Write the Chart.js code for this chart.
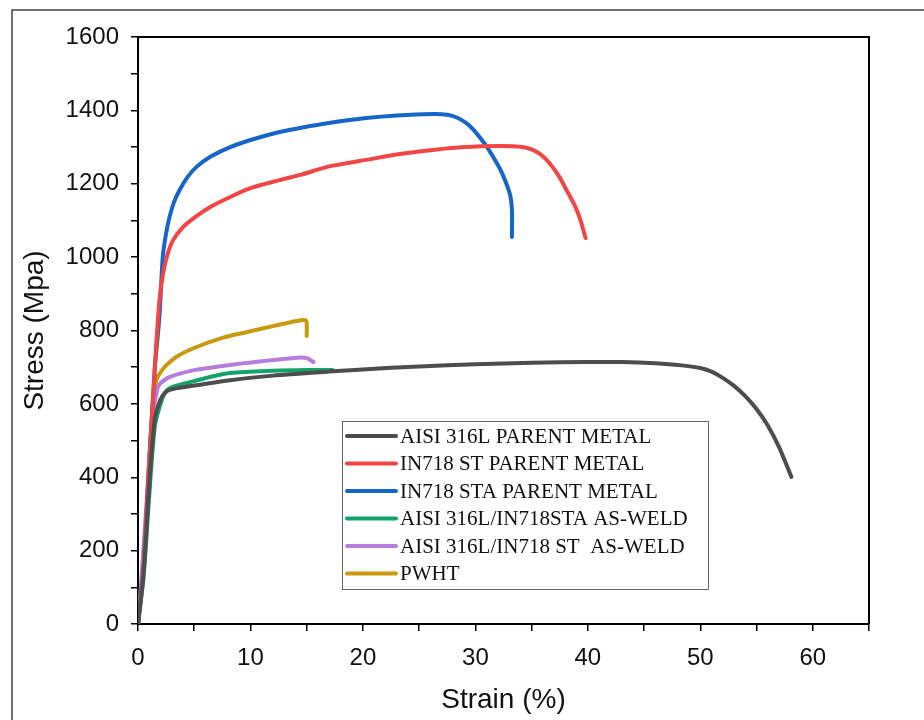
<!DOCTYPE html>
<html>
<head>
<meta charset="utf-8">
<script src="https://cdn.jsdelivr.net/npm/chart.js@4/dist/chart.umd.min.js"></script>
<style>
  html, body { margin: 0; padding: 0; background: #ffffff; }
  #wrap { width: 924px; height: 720px; }
</style>
</head>
<body>
<div id="wrap"><canvas id="c" width="924" height="720"></canvas></div>
<script>
// ---- Data ----
const seriesLabels = [
  'AISI 316L PARENT METAL',
  'IN718 ST PARENT METAL',
  'IN718 STA PARENT METAL',
  'AISI 316L/IN718STA AS-WELD',
  'AISI 316L/IN718 ST  AS-WELD',
  'PWHT'
];
const seriesColors = ['#4d4d4d', '#f44545', '#1566c8', '#12a36b', '#b47ddf', '#c99a0e'];

const strain316L = [0, 0.5, 1.0, 1.5, 2.0, 2.4, 2.8, 3.5, 5.2, 8, 12, 17, 20, 25, 30, 35, 40, 43, 46, 48, 50, 51, 52, 53, 54, 55, 56, 57, 58.1];
const stress316L = [0, 140, 380, 560, 612, 630, 638, 643, 651, 664, 677, 688, 694, 702, 708, 712, 714, 714, 711, 706, 698, 688, 671, 649, 621, 586, 541, 482, 401];

const strainST = [0, 0.5, 1.0, 1.5, 1.9, 2.2, 2.6, 3.1, 4, 5.2, 6.5, 8.2, 10, 12.6, 14.4, 17.1, 20.3, 23, 26.2, 29, 32.2, 34, 35, 35.8, 36.6, 37.4, 38.1, 38.8, 39.3, 39.8];
const stressST = [0, 160, 440, 700, 880, 950, 1005, 1045, 1082, 1112, 1138, 1164, 1188, 1210, 1224, 1248, 1265, 1280, 1292, 1300, 1303, 1301, 1294, 1280, 1256, 1222, 1183, 1143, 1105, 1052];

const strainSTA = [0, 0.5, 1.0, 1.5, 1.8, 1.96, 2.2, 2.5, 2.8, 3.2, 3.7, 4.4, 5.2, 6.5, 8.2, 10.3, 12.6, 14.4, 17.1, 20.3, 23, 26.2, 27.5, 28.4, 29.2, 29.8, 30.5, 31.0, 31.6, 32.2, 32.7, 33.1, 33.25, 33.25];
const stressSTA = [0, 160, 440, 700, 800, 864, 1000, 1065, 1109, 1150, 1183, 1218, 1246, 1275, 1300, 1322, 1341, 1352, 1366, 1379, 1386, 1390, 1388, 1380, 1365, 1348, 1322, 1302, 1272, 1240, 1205, 1168, 1130, 1055];

const strainWeldSTA = [0, 0.5, 1.0, 1.5, 2.0, 2.3, 2.6, 3.0, 3.5, 5, 6.5, 8.2, 12, 15, 17.3];
const stressWeldSTA = [0, 130, 350, 540, 600, 625, 638, 645, 650, 662, 674, 684, 690, 692, 692];

const strainWeldST = [0, 0.3, 0.8, 1.3, 1.7, 2.0, 2.4, 2.8, 3.8, 5, 8.2, 11, 14.1, 15.0, 15.6];
const stressWeldST = [0, 120, 350, 560, 640, 656, 666, 673, 683, 692, 706, 716, 726, 725, 714];

const strainPWHT = [0, 0.5, 1.0, 1.4, 1.7, 2.1, 2.5, 3.5, 5.2, 7.5, 9.7, 12, 14.1, 14.9, 15.0, 15.0];
const stressPWHT = [0, 150, 450, 620, 670, 690, 705, 730, 755, 780, 796, 812, 826, 828, 820, 785];

const xTickMajor = [0, 10, 20, 30, 40, 50, 60];
const yTickMajor = [0, 200, 400, 600, 800, 1000, 1200, 1400, 1600];

// ---- Build datasets ----
const allStrain = [strain316L, strainST, strainSTA, strainWeldSTA, strainWeldST, strainPWHT];
const allStress = [stress316L, stressST, stressSTA, stressWeldSTA, stressWeldST, stressPWHT];

const datasets = seriesLabels.map((lab, i) => ({
  label: lab,
  data: allStrain[i].map((x, k) => ({ x: x, y: allStress[i][k] })),
  borderColor: seriesColors[i],
  backgroundColor: seriesColors[i],
  borderWidth: 4,
  pointRadius: 0,
  showLine: true,
  tension: 0.3,
  borderCapStyle: 'round',
  borderJoinStyle: 'round'
}));

// frame + box + legend plugin
const decor = {
  id: 'decor',
  beforeDraw(chart) {
    const ctx = chart.ctx;
    ctx.save();
    ctx.fillStyle = '#ffffff';
    ctx.fillRect(0, 0, chart.width, chart.height);
    ctx.strokeStyle = '#444';
    ctx.lineWidth = 1.5;
    ctx.beginPath();
    ctx.moveTo(12, 720);
    ctx.lineTo(12, 10);
    ctx.lineTo(924, 10);
    ctx.stroke();
    ctx.restore();
  },
  afterDraw(chart) {
    const ctx = chart.ctx;
    const a = chart.chartArea;
    ctx.save();
    ctx.strokeStyle = '#000';
    ctx.lineWidth = 2;
    ctx.beginPath();
    ctx.moveTo(a.left, a.top);
    ctx.lineTo(a.right, a.top);
    ctx.lineTo(a.right, a.bottom);
    ctx.stroke();

    // legend box
    const bx = 342, by = 421, bw = 366, bh = 168;
    ctx.fillStyle = '#ffffff';
    ctx.fillRect(bx, by, bw, bh);
    ctx.strokeStyle = '#666';
    ctx.lineWidth = 1;
    ctx.strokeRect(bx + 0.5, by + 0.5, bw, bh);
    ctx.font = '21px "Liberation Serif", "Times New Roman", serif';
    ctx.textBaseline = 'middle';
    ctx.textAlign = 'left';
    seriesLabels.forEach((lab, i) => {
      const yy = 436 + i * 27.5;
      ctx.strokeStyle = seriesColors[i];
      ctx.lineWidth = 4;
      ctx.lineCap = 'round';
      ctx.beginPath();
      ctx.moveTo(347, yy);
      ctx.lineTo(396, yy);
      ctx.stroke();
      ctx.fillStyle = '#111';
      ctx.fillText(lab, 400, yy + 1);
    });
    ctx.restore();
  }
};

const tickFont = { family: '"Liberation Sans", Arial, sans-serif', size: 24 };
const titleFont = { family: '"Liberation Sans", Arial, sans-serif', size: 28 };

new Chart(document.getElementById('c'), {
  type: 'scatter',
  data: { datasets: datasets },
  plugins: [decor],
  options: {
    responsive: false,
    animation: false,
    layout: { padding: { top: 37, right: 55, left: 0, bottom: 0 } },
    plugins: { legend: { display: false }, tooltip: { enabled: false } },
    scales: {
      x: {
        type: 'linear',
        min: 0, max: 65,
        afterFit(s) { s.height = 96; },
        ticks: {
          stepSize: 5,
          includeBounds: false,
          autoSkip: false,
          maxRotation: 0,
          padding: 13,
          color: '#111',
          font: tickFont,
          callback: (v) => xTickMajor.includes(v) ? String(v) : ''
        },
        grid: { drawOnChartArea: false, drawTicks: true, tickLength: 7, color: '#000', lineWidth: 1.5 },
        border: { display: true, color: '#000', width: 2 },
        title: { display: true, text: 'Strain (%)', color: '#111', font: titleFont, padding: { top: 0, bottom: 3 } }
      },
      y: {
        type: 'linear',
        min: 0, max: 1600,
        afterFit(s) { s.width = 138; },
        ticks: {
          stepSize: 100,
          autoSkip: false,
          padding: 12,
          color: '#111',
          font: tickFont,
          callback: (v) => yTickMajor.includes(v) ? String(v) : ''
        },
        grid: { drawOnChartArea: false, drawTicks: true, tickLength: 7, color: '#000', lineWidth: 1.5 },
        border: { display: true, color: '#000', width: 2 },
        title: { display: true, text: 'Stress (Mpa)', color: '#111', font: titleFont, padding: { top: 18, bottom: 0 } }
      }
    }
  }
});
</script>
</body>
</html>
